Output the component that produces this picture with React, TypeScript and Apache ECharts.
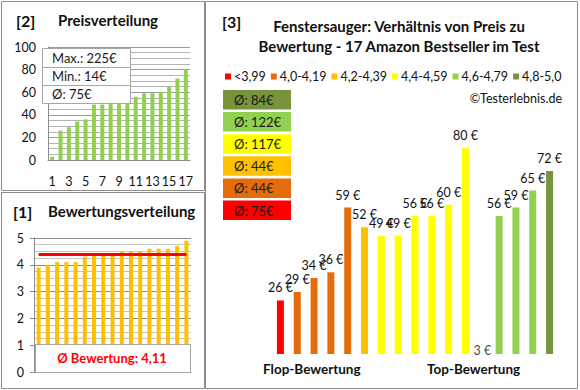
import React, { useEffect, useRef } from "react";
import * as echarts from "echarts";

// ---- data ----
const priceCategories = ["1", "2", "3", "4", "5", "6", "7", "8", "9", "10", "11", "12", "13", "14", "15", "16", "17"];
const priceSorted = [3, 26, 29, 34, 36, 49, 49, 52, 56, 56, 56, 59, 59, 60, 65, 72, 80];
const ratingSorted = [3.9, 4.0, 4.1, 4.1, 4.1, 4.3, 4.4, 4.4, 4.4, 4.5, 4.5, 4.5, 4.6, 4.6, 4.6, 4.7, 4.9];
const priceStats = ["Max.: 225€", "Min.: 14€", "Ø: 75€"];
const ratingAvgText = "Ø Bewertung: 4,11";
const productPrices = [26, 29, 34, 36, 59, 52, 49, 49, 56, 56, 60, 80, 3, 56, 59, 65, 72];
const groupNames = ["<3,99", "4,0-4,19", "4,2-4,39", "4,4-4,59", "4,6-4,79", "4,8-5,0"];
const groupLimits = [4.0, 4.2, 4.4, 4.6, 4.8, 99];
const groupColors = ["#FF0000", "#E46C0A", "#FFC000", "#FFFF00", "#92D050", "#77933C"];
const groupAvgLabels = ["Ø: 75€", "Ø: 44€", "Ø: 44€", "Ø: 117€", "Ø: 122€", "Ø: 84€"];
const titleLines = ["Fenstersauger: Verhältnis von Preis zu", "Bewertung - 17 Amazon Bestseller im Test"];

const FONT = "Lato, 'Liberation Sans', Arial, sans-serif";
const TXT = "#111111";

export default function App() {
  const ref = useRef<HTMLDivElement>(null);

  useEffect(() => {
    if (!ref.current) return;
    const chart = echarts.init(ref.current, undefined, { renderer: "svg" });

    const productGroup = ratingSorted.map((r) => groupLimits.findIndex((l) => r < l));
    const ratingAvg = ratingSorted.reduce((a, b) => a + b, 0) / ratingSorted.length;
    const y3Min = 7;

    const groupSeries = groupNames.map((name, g) => ({
      type: "bar",
      name,
      xAxisIndex: 2,
      yAxisIndex: 2,
      barWidth: 7,
      barGap: "-100%",
      itemStyle: { color: groupColors[g] },
      data: productPrices.map((v, i) => (productGroup[i] === g ? v : "-")),
      label: {
        show: true,
        position: "top",
        distance: 6,
        formatter: "{c} €",
        fontFamily: FONT,
        fontSize: 12.5,
        color: TXT,
      },
      silent: true,
    }));

    const border = "#8c8c8c";
    const boxes: any[] = [];
    // Ø boxes (top to bottom: best to worst)
    for (let k = 0; k < 6; k++) {
      const g = 5 - k;
      const y = 90 + k * 22.1;
      boxes.push({
        type: "rect",
        shape: { x: 223, y, width: 68, height: 19.5 },
        style: { fill: groupColors[g] },
        z: 100,
      });
      boxes.push({
        type: "text",
        x: 234,
        y: y + 10,
        style: {
          text: groupAvgLabels[g],
          font: `13px ${FONT}`,
          fill: "#1a1a1a",
          verticalAlign: "middle",
        },
        z: 101,
      });
    }

    const statBox: any[] = [
      {
        type: "rect",
        shape: { x: 42.5, y: 48.5, width: 88, height: 55 },
        style: { fill: "#ffffff", stroke: "#a6a6a6", lineWidth: 1 },
        z: 100,
      },
      { type: "line", shape: { x1: 42.5, y1: 67.5, x2: 130.5, y2: 67.5 }, style: { stroke: "#a6a6a6" }, z: 101 },
      { type: "line", shape: { x1: 42.5, y1: 85.5, x2: 130.5, y2: 85.5 }, style: { stroke: "#a6a6a6" }, z: 101 },
      ...priceStats.map((t, i) => ({
        type: "text",
        x: 52,
        y: 58 + i * 18.2,
        style: { text: t, font: `13px ${FONT}`, fill: "#1a1a1a", verticalAlign: "middle" },
        z: 102,
      })),
    ];

    const option: any = {
      animation: false,
      backgroundColor: "#ffffff",
      textStyle: { fontFamily: FONT },
      grid: [
        { left: 48, top: 47, width: 142, height: 113, containLabel: false },
        { left: 34, top: 238, width: 157, height: 134, containLabel: false },
        { left: 272, top: 92, width: 286, height: 262, containLabel: false },
      ],
      legend: {
        data: groupNames,
        left: 225,
        top: 70,
        itemWidth: 6,
        itemHeight: 6,
        itemGap: 5,
        icon: "rect",
        selectedMode: false,
        padding: 0,
        textStyle: { fontFamily: FONT, fontSize: 12.5, color: TXT, padding: [0, 0, 0, -2] },
      },
      xAxis: [
        {
          type: "category",
          gridIndex: 0,
          data: priceCategories,
          axisLine: { show: true, lineStyle: { color: border } },
          axisTick: { show: false },
          axisLabel: { interval: 1, margin: 15, fontFamily: FONT, fontSize: 12.5, color: TXT },
        },
        {
          type: "category",
          gridIndex: 1,
          data: priceCategories,
          axisLine: { show: true, lineStyle: { color: border } },
          axisTick: { show: false },
          axisLabel: { show: false },
        },
        {
          type: "category",
          gridIndex: 2,
          data: priceCategories,
          axisLine: { show: false },
          axisTick: { show: false },
          axisLabel: { show: false },
        },
      ],
      yAxis: [
        {
          type: "value",
          gridIndex: 0,
          min: 0,
          max: 100,
          interval: 20,
          axisLine: { show: true, lineStyle: { color: border } },
          axisTick: { show: false },
          axisLabel: { margin: 12, fontFamily: FONT, fontSize: 12.5, color: TXT },
          splitLine: { show: true, lineStyle: { color: "#9a9a9a" } },
          minorTick: { show: false, splitNumber: 4 },
          minorSplitLine: { show: true, lineStyle: { color: "#b4b4b4" } },
        },
        {
          type: "value",
          gridIndex: 1,
          min: 0,
          max: 5,
          interval: 1,
          axisLine: { show: true, lineStyle: { color: border } },
          axisTick: { show: true, length: 4, lineStyle: { color: border } },
          axisLabel: { margin: 10, fontFamily: FONT, fontSize: 12.5, color: TXT },
          splitLine: { show: true, lineStyle: { color: "#8c8c8c" } },
          minorTick: { show: false, splitNumber: 4 },
          minorSplitLine: { show: true, lineStyle: { color: "#c4c4c4" } },
        },
        {
          type: "value",
          gridIndex: 2,
          min: y3Min,
          max: 100,
          show: false,
          splitLine: { show: false },
        },
      ],
      series: [
        {
          type: "bar",
          xAxisIndex: 0,
          yAxisIndex: 0,
          data: priceSorted,
          barWidth: 4,
          itemStyle: { color: "#92D050" },
          silent: true,
        },
        {
          type: "bar",
          xAxisIndex: 1,
          yAxisIndex: 1,
          data: ratingSorted,
          barWidth: 4,
          itemStyle: { color: "#FFC000" },
          silent: true,
          markLine: {
            silent: true,
            symbol: "none",
            label: { show: false },
            lineStyle: { color: "#FF0000", width: 3, type: "solid" },
            data: [
              [
                { xAxis: 0, yAxis: ratingAvg },
                { xAxis: ratingSorted.length - 1, yAxis: ratingAvg },
              ],
            ],
          },
        },
        ...groupSeries,
        {
          type: "scatter",
          xAxisIndex: 2,
          yAxisIndex: 2,
          symbolSize: 0,
          silent: true,
          data: productPrices.map((v) => (v < y3Min ? y3Min : "-")),
          label: {
            show: true,
            position: "top",
            distance: -3,
            formatter: (p: any) => `${productPrices[p.dataIndex]} €`,
            fontFamily: FONT,
            fontSize: 12.5,
            color: TXT,
          },
        },
      ],
      graphic: [
        // panel borders
        { type: "rect", shape: { x: 1.5, y: 1.5, width: 203, height: 189 }, style: { fill: "none", stroke: border, lineWidth: 1 }, z: 90 },
        { type: "rect", shape: { x: 1.5, y: 192.5, width: 203, height: 196 }, style: { fill: "none", stroke: border, lineWidth: 1 }, z: 90 },
        { type: "rect", shape: { x: 205.5, y: 1.5, width: 372, height: 387 }, style: { fill: "none", stroke: border, lineWidth: 1 }, z: 90 },
        // panel labels
        { type: "text", x: 16, y: 20, style: { text: "[2]", font: `bold 16px ${FONT}`, fill: TXT, verticalAlign: "middle" }, z: 100 },
        { type: "text", x: 58, y: 20, style: { text: "Preisverteilung", font: `bold 15px ${FONT}`, fill: TXT, verticalAlign: "middle" }, z: 100 },
        { type: "text", x: 13, y: 211, style: { text: "[1]", font: `bold 16px ${FONT}`, fill: TXT, verticalAlign: "middle" }, z: 100 },
        { type: "text", x: 48, y: 211, style: { text: "Bewertungsverteilung", font: `bold 15px ${FONT}`, fill: TXT, verticalAlign: "middle" }, z: 100 },
        { type: "text", x: 222, y: 21, style: { text: "[3]", font: `bold 16px ${FONT}`, fill: TXT, verticalAlign: "middle" }, z: 100 },
        ...titleLines.map((t, i) => ({
          type: "text",
          x: 399,
          y: 26 + i * 20,
          style: { text: t, font: `bold 15px ${FONT}`, fill: TXT, align: "center", verticalAlign: "middle" },
          z: 100,
        })),
        { type: "text", x: 562, y: 98, style: { text: "©Testerlebnis.de", font: `12.5px ${FONT}`, fill: TXT, align: "right", verticalAlign: "middle" }, z: 100 },
        { type: "text", x: 263, y: 369, style: { text: "Flop-Bewertung", font: `bold 13.5px ${FONT}`, fill: TXT, verticalAlign: "middle" }, z: 100 },
        { type: "text", x: 427, y: 369, style: { text: "Top-Bewertung", font: `bold 13.5px ${FONT}`, fill: TXT, verticalAlign: "middle" }, z: 100 },
        ...statBox,
        ...boxes,
        // rating average box
        { type: "rect", shape: { x: 35.5, y: 344.5, width: 155, height: 28 }, style: { fill: "#ffffff", stroke: "#a6a6a6", lineWidth: 1 }, z: 100 },
        { type: "text", x: 112, y: 358, style: { text: ratingAvgText, font: `bold 13px ${FONT}`, fill: "#FF0000", align: "center", verticalAlign: "middle" }, z: 101 },
      ],
    };

    chart.setOption(option);
    return () => chart.dispose();
  }, []);

  return (
    <div
      ref={ref}
      style={{ position: "absolute", left: 0, top: 0, width: 580, height: 390, background: "#ffffff" }}
    />
  );
}
